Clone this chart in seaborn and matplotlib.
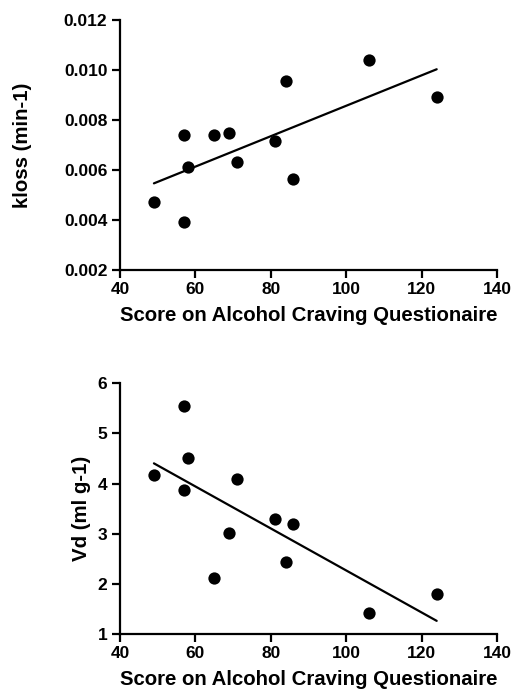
import matplotlib
matplotlib.use("Agg")
import matplotlib.pyplot as plt
import seaborn as sns
import numpy as np
import pandas as pd

sns.set_style("ticks")
plt.rcParams['font.family'] = ['Liberation Sans', 'DejaVu Sans']
plt.rcParams['font.weight'] = 'bold'
plt.rcParams['text.color'] = 'black'
plt.rcParams['axes.labelcolor'] = 'black'
plt.rcParams['xtick.color'] = 'black'
plt.rcParams['ytick.color'] = 'black'

score = [49, 57, 57, 58, 65, 69, 71, 81, 84, 86, 106, 124]
kloss = [0.0047, 0.0074, 0.00393, 0.0061, 0.0074, 0.00747, 0.00633, 0.00717, 0.00956, 0.00564, 0.01039, 0.00891]
score_vd = [49, 57, 57, 58, 65, 69, 71, 81, 84, 86, 106, 124]
vd = [4.18, 5.55, 3.87, 4.52, 2.11, 3.01, 4.09, 3.30, 2.43, 3.20, 1.42, 1.80]

xlabel = "Score on Alcohol Craving Questionaire"
xticks = [40, 60, 80, 100, 120, 140]
kloss_ticks = [0.002, 0.004, 0.006, 0.008, 0.010, 0.012]
vd_ticks = [1, 2, 3, 4, 5, 6]

df1 = pd.DataFrame({"score": score, "kloss": kloss})
df2 = pd.DataFrame({"score": score_vd, "vd": vd})

W, H = 514, 694
fig = plt.figure(figsize=(W/100, H/100), dpi=100)
ax1 = fig.add_axes([120/W, 1-270/H, (497-120)/W, 250/H])
ax2 = fig.add_axes([120/W, 1-634/H, (497-120)/W, (634-383.3)/H])

def style(ax, yticks, ylabel, fmt, ylab_x):
    ax.set_xlim(40, 140)
    ax.set_ylim(yticks[0], yticks[-1])
    ax.set_xticks(xticks)
    ax.set_yticks(yticks)
    ax.set_yticklabels([fmt.format(v) for v in yticks])
    ax.set_xlabel(xlabel, fontsize=14.7, fontweight='bold', labelpad=6, color='black')
    ax.set_ylabel(ylabel, fontsize=14.7, fontweight='bold', color='black')
    ax.yaxis.set_label_coords(ylab_x, 0.5)
    for s in ['top', 'right']:
        ax.spines[s].set_visible(False)
    for s in ['left', 'bottom']:
        ax.spines[s].set_linewidth(1.6)
        ax.spines[s].set_color('black')
    ax.tick_params(axis='both', direction='out', length=6, width=1.6, labelsize=12.5,
                   color='black', labelcolor='black', pad=3)
    for lab in ax.get_xticklabels() + ax.get_yticklabels():
        lab.set_fontweight('bold')

kw = dict(s=78, color='black', edgecolor='black', linewidths=0, alpha=1, zorder=3)
sns.regplot(data=df1, x="score", y="kloss", ax=ax1, ci=None, truncate=True,
            scatter_kws=kw, line_kws=dict(color='black', lw=1.6))
sns.regplot(data=df2, x="score", y="vd", ax=ax2, ci=None, truncate=True,
            scatter_kws=kw, line_kws=dict(color='black', lw=1.6))

style(ax1, kloss_ticks, "kloss (min-1)", "{:.3f}", -0.233)
style(ax2, vd_ticks, "Vd (ml g-1)", "{:d}", -0.077)
for ax in (ax1, ax2):
    for sp in ax.spines.values():
        sp.set_clip_on(False)
    for c in ax.collections:
        c.set_clip_on(False)

fig.savefig("out.png", dpi=100)
